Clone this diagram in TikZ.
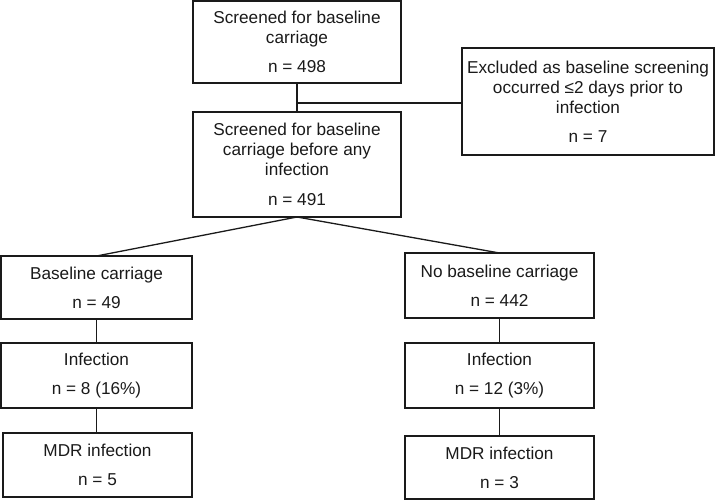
\documentclass[tikz,border=0pt]{standalone}
\usepackage{fontspec}
\setmainfont{Liberation Sans}
\definecolor{ink}{HTML}{1A1A1A}
\begin{document}
\begin{tikzpicture}[x=1pt,y=1pt,
  box/.style={draw=ink, line width=1.3pt, rectangle, inner sep=0pt, outer sep=0pt,
    align=center, text=ink, font=\fontsize{17.2}{20}\selectfont},
  conn/.style={draw=ink, line width=1.3pt}]
\useasboundingbox (0,0) rectangle (715,-501);
\node[box, minimum width=208, minimum height=82] (b1) at (297,-42)
  {Screened for baseline\\carriage\\[9pt]n = 498};
\node[box, minimum width=252, minimum height=107] (ex) at (588,-101.5)
  {Excluded as baseline screening\\occurred ≤2 days prior to\\infection\\[9pt]n = 7};
\node[box, minimum width=208, minimum height=105] (b2) at (297,-164.5)
  {Screened for baseline\\carriage before any\\infection\\[10pt]n = 491};
\node[box, minimum width=191, minimum height=63] (bl) at (96.5,-287.5)
  {Baseline carriage\\[9pt]n = 49};
\node[box, minimum width=189, minimum height=65] (nb) at (499.5,-285.5)
  {No baseline carriage\\[9pt]n = 442};
\node[box, minimum width=191, minimum height=65] (il) at (96.5,-375.5)
  {Infection\\[9pt]n = 8 (16\%)};
\node[box, minimum width=189, minimum height=65] (ir) at (499.5,-375.5)
  {Infection\\[9pt]n = 12 (3\%)};
\node[box, minimum width=189, minimum height=64] (ml) at (97.5,-465)
  {MDR infection\\[9pt]n = 5};
\node[box, minimum width=189, minimum height=63] (mr) at (499.5,-467.5)
  {MDR infection\\[9pt]n = 3};
\draw[conn] (b1.south) -- (b2.north);
\coordinate (j) at (b1.south |- 0,-103);
\draw[conn] (j) -- (j -| ex.west);
\draw[conn] (bl.north) -- (b2.south) -- (nb.north);
\draw[conn] (bl.south) -- (il.north);
\draw[conn] (nb.south) -- (ir.north);
\draw[conn] (il.south) -- (il.south |- ml.north);
\draw[conn] (ir.south) -- (mr.north);
\end{tikzpicture}
\end{document}
